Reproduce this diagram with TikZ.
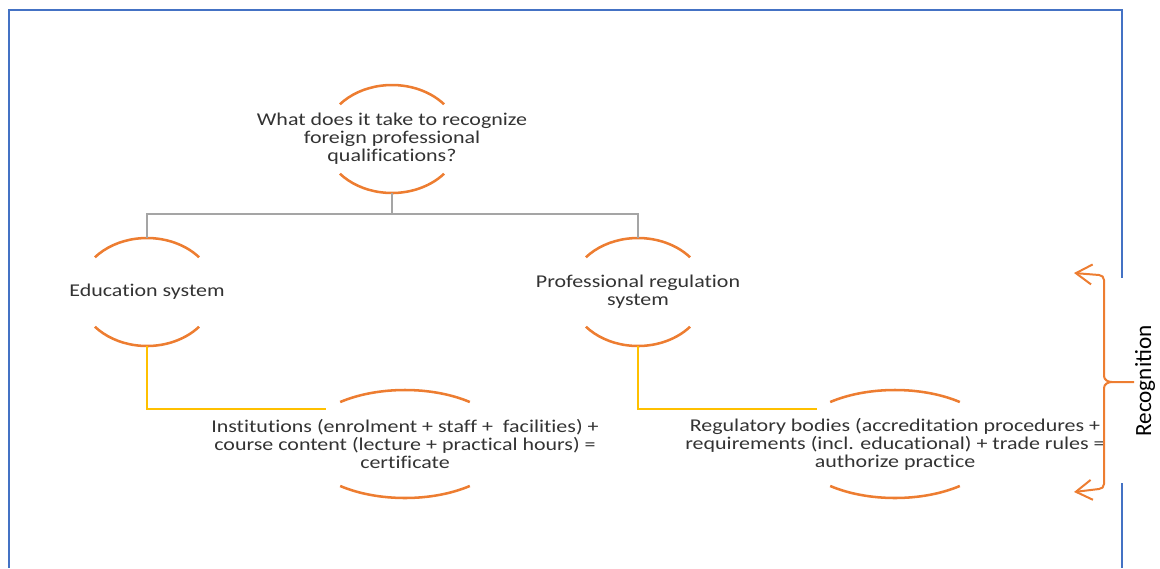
\documentclass[tikz,border=0pt]{standalone}
\usepackage{fontspec}
\setmainfont{Carlito}[FakeStretch=1.22, Ligatures=NoCommon]
\newfontfamily\sidefont{Carlito}
\usepackage{xcolor}
\usepackage{tikz}
\usetikzlibrary{calc}
\usetikzlibrary{shapes.geometric}
\usetikzlibrary{arrows.meta}
\definecolor{haloorange}{HTML}{ED7D31}
\definecolor{treegray}{HTML}{A5A5A5}
\definecolor{linkgold}{HTML}{FFC000}
\definecolor{frameblue}{HTML}{4472C4}
\definecolor{textgray}{HTML}{333333}
\tikzset{
  ring/.style={ellipse, minimum width=102pt, minimum height=81pt, inner sep=0pt, outer sep=0pt},
  wide ring/.style={ring, minimum width=154.5pt},
  txt/.style={align=center, text=textgray, font=\fontsize{13.5}{13.6}\selectfont},
  halo/.style={draw=haloorange, line width=1.9pt},
  tree/.style={draw=treegray, line width=1.9pt},
  link/.style={draw=linkgold, line width=1.9pt},
  frame/.style={draw=frameblue, line width=1.5pt},
  brace/.style={draw=haloorange, line width=1.5pt, {Straight Barb[length=12pt, width=15pt]}-}
}
\newcommand{\halo}[4]{
\draw[halo] ($(#1) + (#4:#2 and #3)$) arc(#4:180-#4:#2 and #3);
\draw[halo] ($(#1) + (-#4:#2 and #3)$) arc(-#4:-180+#4:#2 and #3);
}

\begin{document}
\begin{tikzpicture}[x=0.75pt, y=-0.75pt]
\useasboundingbox (0,0) rectangle (1160,568);
\draw[frame] (9,568) -- (9,10) -- (1122,10) -- (1122,278);
\draw[frame] (1122,483) -- (1122,568);

\node[ring] (q) at (392,139) {};
\node[ring] (edu) at (147,292) {};
\node[ring] (prof) at (638,292) {};
\node[wide ring] (inst) at (405,444) {};
\node[wide ring] (reg) at (895,444) {};

\halo{q}{51pt}{40.5pt}{40}
\halo{edu}{51pt}{40.5pt}{40}
\halo{prof}{51pt}{40.5pt}{40}
\halo{inst}{77.25pt}{40.5pt}{51}
\halo{reg}{77.25pt}{40.5pt}{51}

\node[txt] (q-t) at (q) {What does it take to recognize\\foreign professional\\qualifications?};
\node[txt] (edu-t) at (edu) {Education system};
\node[txt] (prof-t) at (prof) {Professional regulation\\system};
\node[txt] (inst-t) at (inst) {Institutions (enrolment + staff + \ facilities) +\\course content (lecture + practical hours) =\\certificate};
\node[txt] (reg-t) at (reg) {Regulatory bodies (accreditation procedures +\\requirements (incl. educational) + trade rules =\\authorize practice};

\draw[tree] (q.south) -- ++(0,21) -| (edu.north);
\draw[tree] (q.south) ++(0,21) -| (prof.north);
\draw[link] (edu.south) |- (inst.156);
\draw[link] (prof.south) |- (reg.156);

\coordinate (top tip) at (1074,273);
\coordinate (bottom tip) at (1074,492);
\coordinate (mid tip) at (1134,382);
\draw[brace] (top tip) -- (1099,275) to[out=0, in=90] (1104,280) -- (1104,376)
   to[out=-90, in=180] (1112,382) -- (mid tip);
\draw[brace] (bottom tip) -- (1099,489) to[out=0, in=-90] (1104,484) -- (1104,388)
   to[out=90, in=180] (1112,382);
\node[rotate=90, text=black, font=\sidefont\fontsize{17.4}{18}\selectfont] (recog) at (1145,381) {Recognition};
\end{tikzpicture}
\end{document}
